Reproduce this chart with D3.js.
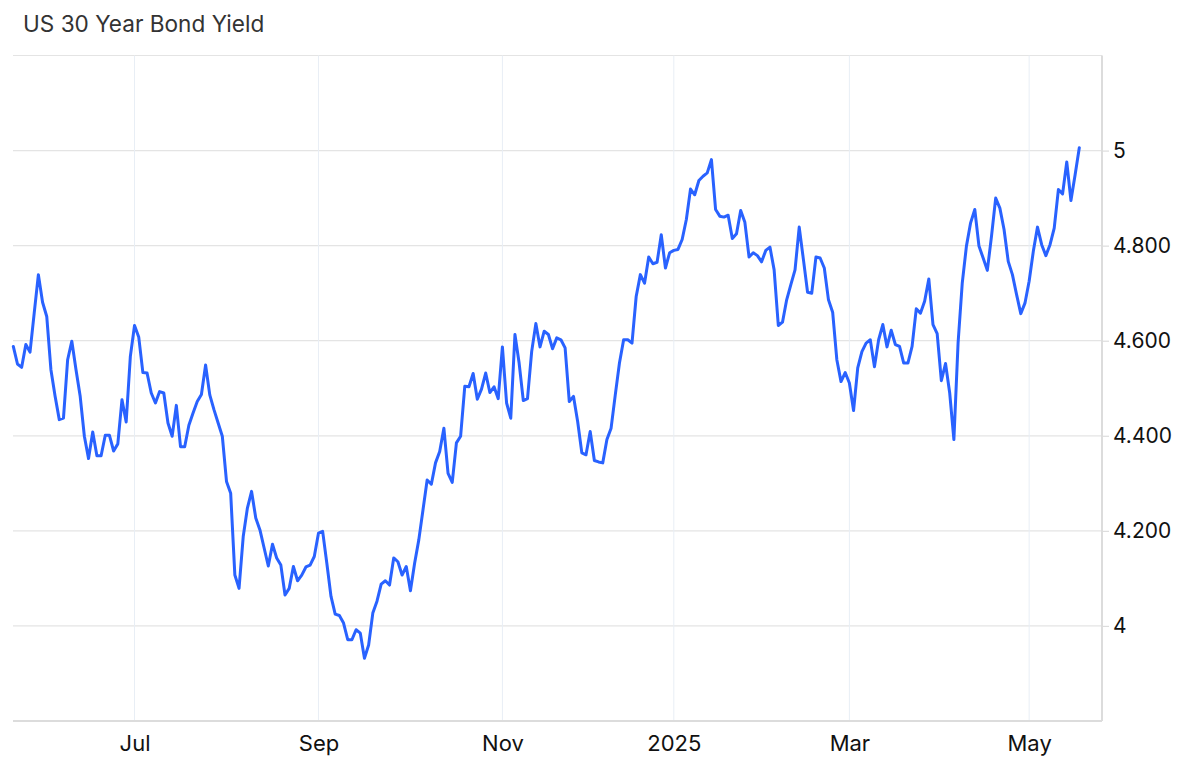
<!DOCTYPE html>
<html>
<head>
<meta charset="utf-8">
<script src="https://cdn.jsdelivr.net/npm/d3@7"></script>
<style>
  html, body { margin: 0; padding: 0; background: #fff; }
  svg { display: block; }
</style>
</head>
<body>
<svg id="chart" width="1200" height="779"></svg>
<script>
const title = "US 30 Year Bond Yield";

// daily yields (trading-day order, late May 2024 -> mid May 2025)
const yields = [
  4.588,4.551,4.544,4.592,4.576,4.658,4.739,4.681,4.651,4.539,
  4.483,4.434,4.437,4.560,4.599,4.539,4.483,4.399,4.352,4.408,
  4.358,4.358,4.401,4.401,4.368,4.383,4.476,4.429,4.567,4.632,
  4.608,4.533,4.532,4.490,4.469,4.493,4.490,4.427,4.399,4.464,
  4.377,4.377,4.422,4.448,4.472,4.487,4.549,4.486,4.455,4.427,
  4.399,4.304,4.279,4.107,4.079,4.188,4.248,4.283,4.227,4.202,
  4.164,4.126,4.172,4.143,4.128,4.065,4.079,4.125,4.095,4.107,
  4.124,4.128,4.146,4.195,4.199,4.132,4.062,4.025,4.022,4.006,
  3.971,3.971,3.992,3.985,3.932,3.960,4.027,4.052,4.088,4.095,
  4.086,4.143,4.135,4.107,4.125,4.074,4.132,4.181,4.244,4.307,
  4.298,4.343,4.367,4.416,4.321,4.302,4.385,4.399,4.504,4.503,
  4.531,4.477,4.498,4.532,4.491,4.503,4.478,4.587,4.469,4.437,
  4.613,4.553,4.474,4.478,4.577,4.636,4.587,4.620,4.613,4.583,
  4.606,4.602,4.585,4.472,4.483,4.430,4.364,4.360,4.409,4.348,
  4.345,4.343,4.392,4.416,4.486,4.553,4.602,4.602,4.595,4.693,
  4.739,4.721,4.776,4.762,4.765,4.823,4.753,4.785,4.790,4.792,
  4.813,4.855,4.919,4.907,4.937,4.946,4.953,4.981,4.876,4.862,
  4.860,4.864,4.815,4.825,4.874,4.849,4.776,4.785,4.779,4.766,
  4.790,4.797,4.749,4.632,4.639,4.686,4.718,4.749,4.839,4.771,
  4.702,4.700,4.776,4.774,4.753,4.686,4.660,4.560,4.514,4.533,
  4.511,4.453,4.543,4.577,4.595,4.602,4.545,4.602,4.634,4.587,
  4.622,4.592,4.588,4.553,4.553,4.588,4.667,4.658,4.683,4.730,
  4.634,4.615,4.516,4.552,4.490,4.392,4.595,4.721,4.799,4.848,
  4.876,4.799,4.774,4.748,4.820,4.900,4.879,4.834,4.767,4.739,
  4.697,4.657,4.679,4.725,4.788,4.839,4.802,4.779,4.802,4.837,
  4.918,4.909,4.976,4.895,4.949,5.006
];
const dayIndex = yields.map((_, i) => i);

// x-axis ticks (trading-day index of month start) and labels
const xTickIndex = [29, 73, 117, 158, 200, 243];
const xTickLabels = ["Jul", "Sep", "Nov", "2025", "Mar", "May"];

// y-axis ticks and labels
const yTickValues = [4, 4.2, 4.4, 4.6, 4.8, 5];
const yTickLabels = ["4", "4.200", "4.400", "4.600", "4.800", "5"];
const yGridValues = [4, 4.2, 4.4, 4.6, 4.8, 5, 5.2];

const svg = d3.select("#chart");
const plotLeft = 13, plotRight = 1102, plotTop = 55.5, plotBottom = 721;

const x = d3.scaleLinear().domain([0, dayIndex.length - 1]).range([13.3, 1079.3]);
const y = d3.scaleLinear().domain([3.8, 5.2]).range([plotBottom, plotTop]);

// title
svg.append("text")
  .attr("x", 23).attr("y", 32)
  .attr("font-family", "Inter, 'Noto Sans', sans-serif")
  .attr("font-size", 22.6)
  .attr("fill", "#333")
  .text(title);

// horizontal grid
svg.append("g").selectAll("line").data(yGridValues).join("line")
  .attr("x1", plotLeft).attr("x2", plotRight)
  .attr("y1", d => y(d)).attr("y2", d => y(d))
  .attr("stroke", "#e4e4e4").attr("stroke-width", 1.2);

// vertical grid
svg.append("g").selectAll("line").data(xTickIndex).join("line")
  .attr("x1", d => x(d)).attr("x2", d => x(d))
  .attr("y1", plotTop).attr("y2", plotBottom)
  .attr("stroke", "#e8eef5").attr("stroke-width", 1);

// bottom axis
const xAxis = d3.axisBottom(x)
  .tickValues(xTickIndex)
  .tickFormat((d, i) => xTickLabels[i])
  .tickSize(0).tickPadding(14);
const gx = svg.append("g").attr("transform", `translate(0,${plotBottom})`).call(xAxis);
gx.select(".domain").remove();
gx.selectAll("text")
  .attr("font-family", "Inter, 'Noto Sans', sans-serif")
  .attr("font-size", 22).attr("fill", "#111");
svg.append("line")
  .attr("x1", plotLeft).attr("x2", plotRight)
  .attr("y1", plotBottom).attr("y2", plotBottom)
  .attr("stroke", "#dcdcdc").attr("stroke-width", 2);

// right axis
const yAxis = d3.axisRight(y)
  .tickValues(yTickValues)
  .tickFormat((d, i) => yTickLabels[i])
  .tickSize(7).tickPadding(4);
const gy = svg.append("g").attr("transform", `translate(${plotRight},0)`).call(yAxis);
gy.select(".domain").remove();
gy.selectAll(".tick line").attr("stroke", "#dcdcdc").attr("stroke-width", 1.2);
gy.selectAll("text")
  .attr("font-family", "Inter, 'Noto Sans', sans-serif")
  .attr("font-size", 21).attr("fill", "#111");
svg.append("line")
  .attr("x1", plotRight).attr("x2", plotRight)
  .attr("y1", plotTop).attr("y2", plotBottom)
  .attr("stroke", "#dcdcdc").attr("stroke-width", 2);

// line
const line = d3.line()
  .x((d, i) => x(dayIndex[i]))
  .y(d => y(d));
svg.append("path")
  .datum(yields)
  .attr("d", line)
  .attr("fill", "none")
  .attr("stroke", "#2962ff")
  .attr("stroke-width", 3)
  .attr("stroke-linejoin", "round")
  .attr("stroke-linecap", "round");
</script>
</body>
</html>
